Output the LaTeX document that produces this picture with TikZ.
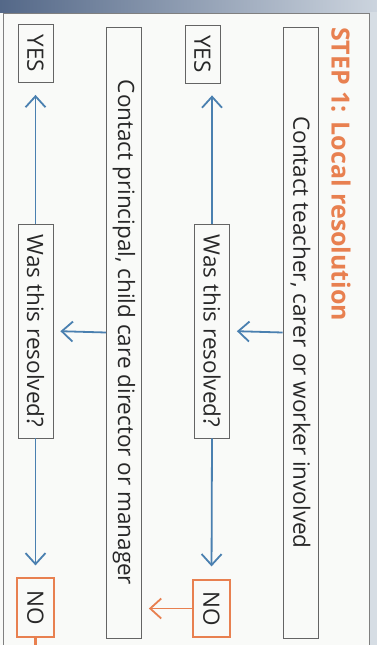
\documentclass[tikz,border=0pt]{standalone}
\usepackage{fontspec}
\setmainfont{Open Sans}
\usetikzlibrary{arrows.meta}
\definecolor{flowblue}{RGB}{74,128,176}
\definecolor{floworange}{RGB}{232,128,80}
\definecolor{boxgray}{RGB}{100,100,100}
\definecolor{textgray}{RGB}{40,40,40}
\definecolor{bandleft}{RGB}{84,104,136}
\definecolor{bandright}{RGB}{204,212,222}
\definecolor{pagebg}{RGB}{249,250,248}
\begin{document}
\begin{tikzpicture}[x=1pt,y=-1pt,
    textbox/.style={draw=boxgray,line width=0.8pt,rotate=-90,minimum height=35pt,inner sep=0pt,text=textgray,font=\fontsize{22.5}{26}\selectfont},
    nobox/.style={textbox,draw=floworange,line width=1.2pt,minimum height=37pt},
    flow/.style={-{Straight Barb[length=11pt,width=20pt]},flowblue,line width=1.8pt},
    noflow/.style={flow,floworange}]
      \useasboundingbox (0,0) rectangle (377,645);
      \fill[pagebg] (0,0) rectangle (377,645);
      \shade[left color=bandleft,right color=bandright] (0,0) rectangle (377,12);
      \fill[bandright!80!white] (370,12) rectangle (377,645);
      \draw[gray,line width=1pt] (3,13) rectangle (369,660);
      % step title
      \node[rotate=-90,anchor=west,inner sep=0pt,text=floworange,font=\fontsize{25}{28}\bfseries] (title) at (341,27) {STEP 1: Local resolution};
      % first round
      \node[textbox,minimum width=611pt] (teacher) at (300.5,332.5) {Contact teacher, carer or worker involved};
      \node[textbox,minimum width=214pt] (check1) at (212,331) {Was this resolved?};
      \node[textbox,minimum width=58pt] (yes1) at (202.5,54) {YES};
      \node[nobox,minimum width=57pt] (no1) at (211.5,608.5) {NO};
      % second round
      \node[textbox,minimum width=611pt] (principal) at (124,332.5) {Contact principal, child care director or manager};
      \node[textbox,minimum width=214pt] (check2) at (35.5,331) {Was this resolved?};
      \node[textbox,minimum width=58pt] (yes2) at (35.5,53.5) {YES};
      \node[nobox,minimum width=59pt] (no2) at (35.5,607.5) {NO};
      \coordinate (next) at (35.5,660);
      \draw[flow,shorten >=7pt] (teacher.south) -- (check1.north);
      \draw[flow,shorten >=12pt] (check1.west) -- (check1.west |- yes1.east);
      \draw[flow,shorten >=13pt] (check1.east) -- (no1.west);
      \draw[noflow,shorten >=7pt] (no1.south) -- (no1.south -| principal.north);
      \draw[flow,shorten >=7pt] (principal.south) -- (check2.north);
      \draw[flow,shorten >=12pt] (check2.west) -- (yes2.east);
      \draw[flow,shorten >=12pt] (check2.east) -- (no2.west);
      \draw[floworange,line width=2.5pt] (no2.east) -- (next);
\end{tikzpicture}
\end{document}
